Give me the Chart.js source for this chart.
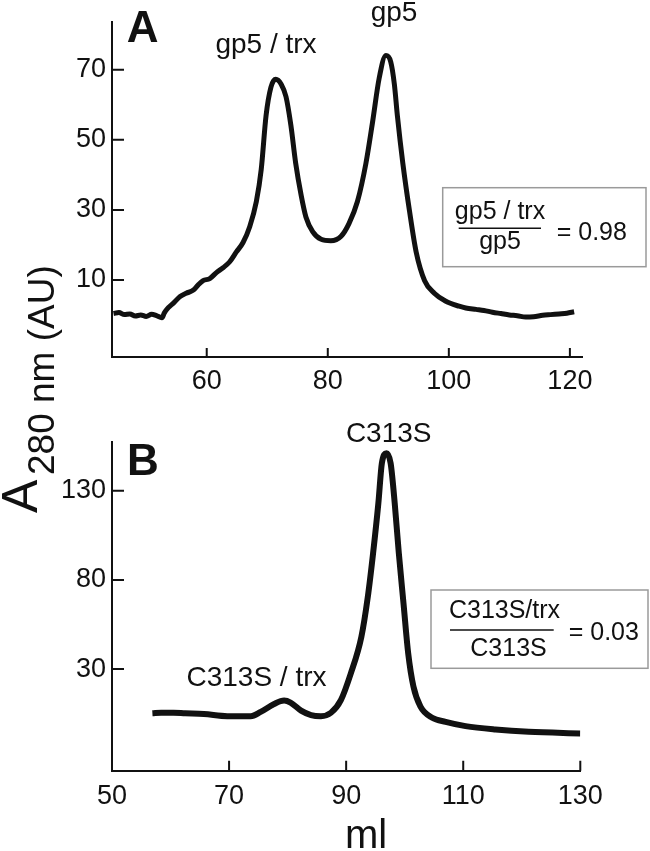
<!DOCTYPE html>
<html>
<head>
<meta charset="utf-8">
<script src="https://cdn.jsdelivr.net/npm/chart.js@4.4.1/dist/chart.umd.min.js"></script>
<style>
  html, body { margin: 0; padding: 0; background: #fff; }
  body { width: 650px; height: 851px; position: relative; overflow: hidden; }
  .panel { position: absolute; left: 0; width: 650px; }
  #wrapA { top: 0; height: 420px; }
  #wrapB { top: 240px; height: 611px; }
</style>
</head>
<body>
<div class="panel" id="wrapA"><canvas id="chartA"></canvas></div>
<div class="panel" id="wrapB"><canvas id="chartB"></canvas></div>
<script>
// Panel A: wild-type gp5 elution (ml vs A280)
const volA = [44.6, 45.5, 46.4, 47.3, 48.2, 49.1, 50.0, 50.9, 51.7, 52.6, 53.0, 53.65, 54.5, 55.6, 56.6,
  57.8, 58.6, 59.4, 60.5, 61.6, 62.7, 63.8, 64.9, 66.0, 67.1, 68.2, 69.0, 69.8, 70.6, 71.4, 72.3, 73.1,
  73.9, 74.7, 75.6, 76.4, 77.5, 78.9, 80.5, 82.2, 83.5, 84.9, 86.3, 87.4, 88.5, 89.6, 90.4, 91.0, 91.5,
  92.4, 93.5, 94.6, 96.0, 97.6, 99.5, 101.7, 102.8, 104.5, 105.8, 107.2, 108.6, 110.0, 111.3, 112.7,
  114.0, 115.5, 116.8, 118.2, 119.5, 120.7];
const absA = [0.4, 0.7, 0.1, 0.3, -0.3, 0.0, -0.4, 0.2, -0.2, -0.8, 0.6, 2.1, 3.4, 5.3, 6.2,
  7.1, 8.6, 9.8, 10.4, 12.1, 13.5, 15.2, 18.0, 20.7, 25.2, 32.4, 41.5, 56.9, 65.0, 67.3, 65.9, 62.3,
  54.2, 43.3, 34.2, 27.9, 23.8, 21.6, 21.2, 22.5, 26.1, 32.4, 43.3, 55.1, 67.7, 74.1, 72.3, 65.9, 56.9,
  43.3, 29.7, 18.0, 9.8, 6.2, 3.9, 2.5, 2.0, 1.6, 1.3, 0.8, 0.4, 0.0, -0.2, -0.6,
  -0.5, -0.1, 0.1, 0.3, 0.5, 0.9];

// Panel B: C313S mutant
const volB = [56.9, 58.4, 60.5, 62.5, 65.7, 69.7, 73.7, 75.4, 77.7, 79.4, 80.5, 82.3, 84.0, 85.7, 87.4,
  89.1, 90.8, 92.6, 93.7, 94.6, 95.5, 96.1, 96.9, 97.6, 98.3, 99.0, 99.8, 100.6, 101.5, 102.7, 104.7,
  107.0, 110.4, 115.5, 121.2, 130.0];
const absB = [5.2, 5.5, 5.5, 5.2, 4.8, 3.6, 3.6, 6.0, 10.4, 12.3, 11.2, 6.7, 4.2, 3.6, 5.5,
  12.6, 27.6, 48.1, 70.5, 94.9, 122.9, 145.4, 151.0, 145.4, 122.9, 94.9, 66.8, 38.8, 20.1, 8.9, 2.7,
  0.4, -2.0, -3.9, -5.2, -6.1];

const ticksAX = [60, 80, 100, 120];
const ticksAY = [10, 30, 50, 70];
const ticksBX = [50, 70, 90, 110, 130];
const ticksBY = [30, 80, 130];

const FONT = "'Liberation Sans', Arial, Helvetica, sans-serif";
const INK = '#111';

Chart.defaults.font.family = FONT;
Chart.defaults.color = INK;

// inward tick marks, labels, ratio box and axis title
const decor = {
  id: 'decor',
  afterDraw(chart, args, o) {
    const ctx = chart.ctx;
    const dy = o.top;
    const xs = chart.scales.x, ys = chart.scales.y;
    ctx.save();
    ctx.fillStyle = INK;
    ctx.strokeStyle = INK;
    ctx.lineWidth = 2;
    ctx.beginPath();
    xs.ticks.forEach(t => {
      const px = xs.getPixelForValue(t.value);
      ctx.moveTo(px, xs.top);
      ctx.lineTo(px, xs.top - o.xTick);
    });
    ys.ticks.forEach(t => {
      const py = ys.getPixelForValue(t.value);
      ctx.moveTo(ys.right, py);
      ctx.lineTo(ys.right + o.yTick, py);
    });
    ctx.stroke();

    ctx.textBaseline = 'alphabetic';
    o.labels.forEach(l => {
      ctx.font = l.font;
      ctx.textAlign = l.align || 'center';
      ctx.fillText(l.text, l.x, l.y - dy);
    });

    const r = o.ratio;
    ctx.strokeStyle = '#9a9a9a';
    ctx.lineWidth = 1.5;
    ctx.strokeRect(r.box[0], r.box[1] - dy, r.box[2] - r.box[0], r.box[3] - r.box[1]);
    ctx.strokeStyle = INK;
    ctx.beginPath();
    ctx.moveTo(r.bar[0], r.bar[2] - dy);
    ctx.lineTo(r.bar[1], r.bar[2] - dy);
    ctx.stroke();
    ctx.font = '25px ' + FONT;
    ctx.textAlign = 'center';
    ctx.fillText(r.num, r.num_x, r.num_y - dy);
    ctx.fillText(r.den, r.den_x, r.den_y - dy);
    ctx.textAlign = 'left';
    ctx.fillText(r.eq, r.eq_x, r.eq_y - dy);

    if (o.ytitle) {
      const t = o.ytitle;
      ctx.save();
      ctx.translate(t.ax, t.ay - dy);
      ctx.rotate(-Math.PI / 2);
      ctx.font = '50px ' + FONT;
      ctx.textAlign = 'left';
      ctx.fillText('A', 0, 0);
      ctx.restore();
      ctx.save();
      ctx.translate(t.sx, t.sy - dy);
      ctx.rotate(-Math.PI / 2);
      ctx.font = '37px ' + FONT;
      ctx.textAlign = 'left';
      ctx.fillText('280 nm (AU)', 0, 0);
      ctx.restore();
    }
    ctx.restore();
  }
};

function axes(xr, yr, xt, yt, canvasH, bottomPx, xPad) {
  return {
    x: {
      type: 'linear', min: xr[0], max: xr[1],
      afterBuildTicks: s => { s.ticks = xt.map(v => ({ value: v })); },
      afterFit: s => { s.height = canvasH - bottomPx; },
      grid: { display: false, drawTicks: false },
      border: { display: true, color: INK, width: 2 },
      ticks: { font: { size: 27 }, color: INK, padding: xPad, maxRotation: 0 }
    },
    y: {
      type: 'linear', min: yr[0], max: yr[1],
      afterBuildTicks: s => { s.ticks = yt.map(v => ({ value: v })); },
      afterFit: s => { s.width = 112; },
      grid: { display: false, drawTicks: false },
      border: { display: true, color: INK, width: 2 },
      ticks: { font: { size: 27 }, color: INK, padding: 6 }
    }
  };
}

const lineSet = (xs, ys, w) => ({
  data: xs.map((v, i) => ({ x: v, y: ys[i] })),
  borderColor: INK,
  borderWidth: w,
  pointRadius: 0,
  cubicInterpolationMode: 'monotone',
  fill: false
});

new Chart(document.getElementById('chartA'), {
  type: 'line',
  data: { datasets: [lineSet(volA, absA, 5)] },
  options: {
    responsive: true,
    maintainAspectRatio: false,
    animation: false,
    layout: { padding: { top: 5, right: 68, left: 0, bottom: 0 } },
    plugins: {
      legend: { display: false },
      tooltip: { enabled: false },
      decor: {
        top: 0, xTick: 9, yTick: 12,
        labels: [
          { text: 'A', font: 'bold 44px ' + FONT, x: 126.7, y: 41.7, align: 'left' },
          { text: 'gp5 / trx', font: '28px ' + FONT, x: 266, y: 53 },
          { text: 'gp5', font: '28px ' + FONT, x: 394, y: 21 }
        ],
        ratio: {
          box: [442.7, 187.7, 646, 266.7],
          bar: [458.7, 541, 228.3],
          num: 'gp5 / trx', num_x: 500, num_y: 219.3,
          den: 'gp5', den_x: 500, den_y: 249.3,
          eq: '= 0.98', eq_x: 556.7, eq_y: 240
        }
      }
    },
    scales: axes([44.35, 122], [-12, 83.6], ticksAX, ticksAY, 420, 357, 8)
  },
  plugins: [decor]
});

new Chart(document.getElementById('chartB'), {
  type: 'line',
  data: { datasets: [lineSet(volB, absB, 6)] },
  options: {
    responsive: true,
    maintainAspectRatio: false,
    animation: false,
    layout: { padding: { top: 201.7, right: 69.7, left: 0, bottom: 0 } },
    plugins: {
      legend: { display: false },
      tooltip: { enabled: false },
      decor: {
        top: 240, xTick: 10, yTick: 12,
        labels: [
          { text: 'B', font: 'bold 44px ' + FONT, x: 127, y: 475, align: 'left' },
          { text: 'C313S', font: '28px ' + FONT, x: 388.7, y: 441.7 },
          { text: 'C313S / trx', font: '28px ' + FONT, x: 256.5, y: 686 },
          { text: 'ml', font: '40px ' + FONT, x: 366, y: 848 }
        ],
        ratio: {
          box: [431, 590, 648, 668.3],
          bar: [450, 553.7, 630],
          num: 'C313S/trx', num_x: 504.5, num_y: 618.3,
          den: 'C313S', den_x: 508.5, den_y: 656,
          eq: '= 0.03', eq_x: 568.7, eq_y: 640
        },
        ytitle: { ax: 37, ay: 513, sx: 53.5, sy: 475 }
      }
    },
    scales: axes([50, 130], [-27, 157.5], ticksBX, ticksBY, 611, 530.7, 10)
  },
  plugins: [decor]
});
</script>
</body>
</html>
